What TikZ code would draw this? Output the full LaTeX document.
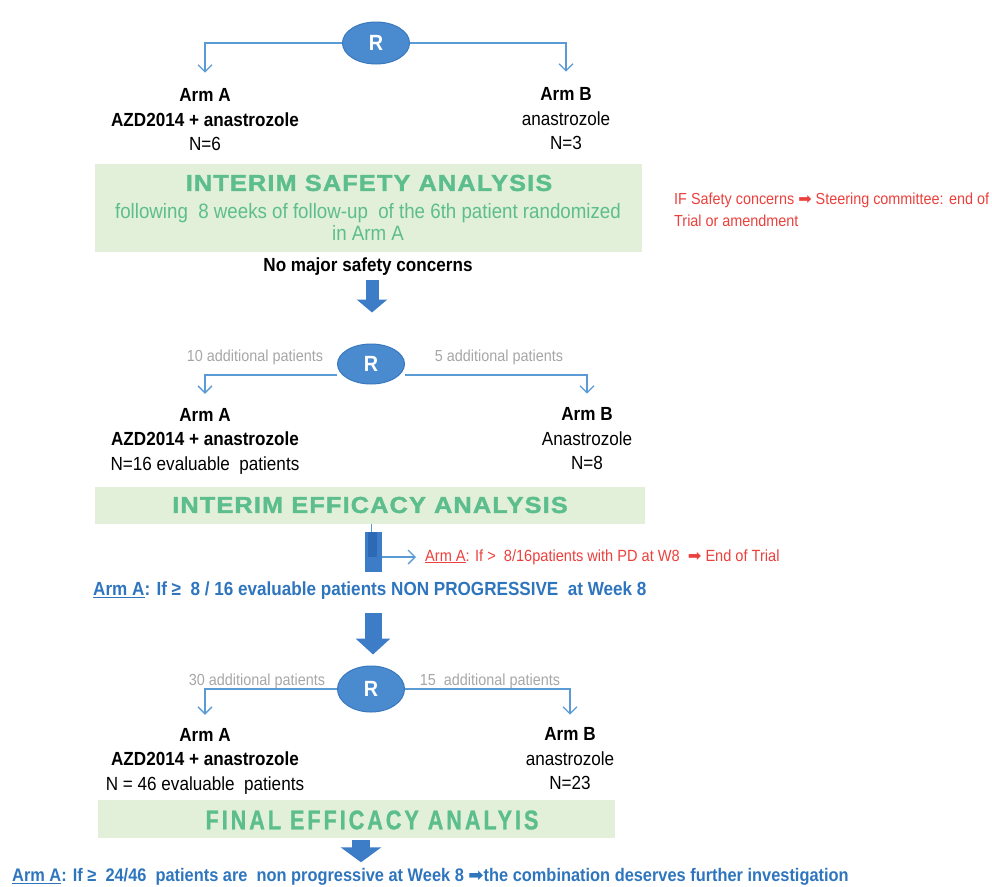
\documentclass[tikz,border=0pt]{standalone}
\usepackage{fontspec}
\setmainfont{Liberation Sans}[FakeStretch=0.9]
\newfontfamily\headfont{Liberation Sans}[FakeStretch=1.1,LetterSpace=5,FakeBold=1.6]
\newfontfamily\finalhead{Liberation Sans}[FakeStretch=0.8,LetterSpace=11,FakeBold=1]
\newfontfamily\symfont{DejaVu Sans}
\usepackage{xcolor}
\usetikzlibrary{arrows.meta,positioning,shapes.geometric}

\definecolor{rblue}{RGB}{74,139,208}
\definecolor{rborder}{RGB}{58,120,190}
\definecolor{linkblue}{RGB}{91,155,213}
\definecolor{blockblue}{RGB}{61,125,200}
\definecolor{bardark}{RGB}{45,105,180}
\definecolor{boxgreen}{RGB}{226,239,217}
\definecolor{titlegreen}{RGB}{92,190,140}
\definecolor{addgray}{RGB}{166,166,166}
\definecolor{warnred}{RGB}{235,64,60}
\definecolor{notetext}{RGB}{46,117,190}

\newcommand{\rarr}{{\symfont\char"27A1}}

\begin{document}
\begin{tikzpicture}[
  x=1pt, y=-1pt,
  rnode/.style={ellipse, draw=rborder, line width=1pt, fill=rblue, minimum width=67pt, minimum height=42pt, inner sep=0pt, text=white, font=\fontsize{22}{22}\selectfont\bfseries},
  armtext/.style={align=center, inner sep=0pt, font=\fontsize{19}{24.5}\selectfont},
  addtext/.style={text=addgray, inner sep=0pt, font=\fontsize{16}{16}\selectfont},
  phase/.style={fill=boxgreen, inner sep=0pt},
  phasetitle/.style={text=titlegreen, inner sep=0pt, font=\headfont\fontsize{23}{23}\selectfont\bfseries},
  link/.style={draw=linkblue, line width=1.3pt, -{Straight Barb[length=7pt,width=14pt]}},
  block/.style={draw=blockblue},
  warn/.style={text=warnred, inner sep=0pt, font=\fontsize{16}{22}\selectfont},
  note/.style={text=notetext, inner sep=0pt, font=\fontsize{19}{19}\selectfont\bfseries}
]
\useasboundingbox (0,0) rectangle (992,886);

% first randomisation
\node[rnode] (r1) at (376,43) {R};
\node[armtext] (armA1) at (205,120) {\textbf{Arm A}\\\textbf{AZD2014 + anastrozole}\\N=6};
\node[armtext] (armB1) at (566,119) {\textbf{Arm B}\\anastrozole\\N=3};
\draw[link, shorten >=16pt] (r1) -| (armA1);
\draw[link, shorten >=16pt] (r1) -| (armB1);

% interim safety
\node[phase, minimum width=547pt, minimum height=88pt] (safety) at (368.5,208) {};
\node[phasetitle] (safetytitle) at (369,183) {INTERIM SAFETY ANALYSIS};
\node[armtext, text=titlegreen, font=\fontsize{20.8}{22}\selectfont] (safetysub) at (368,222) {following\ \ 8 weeks of follow-up\ \ of the 6th patient randomized\\in Arm A};
\node[warn, align=left, anchor=west] (warn1) at (674,210) {IF Safety concerns \rarr{} Steering committee: end of\\Trial or amendment};
\node[armtext, font=\fontsize{19}{19}\selectfont\bfseries] (nomajor) at (368,267) {No major safety concerns};

% second randomisation
\node[rnode, minimum height=40pt] (r2) at (371,364) {R};
\draw[block, line width=13pt, shorten <=4pt, shorten >=31pt, -{Triangle[length=13pt,width=30pt]}] (nomajor.south -| 372,0) -- (r2.north -| 372,0);
\node[addtext] (add10) at (255,357) {10 additional patients};
\node[addtext] (add5) at (499,357) {5 additional patients};
\node[armtext] (armA2) at (205,441) {\textbf{Arm A}\\\textbf{AZD2014 + anastrozole}\\N=16 evaluable\ \ patients};
\node[armtext] (armB2) at (587,439) {\textbf{Arm B}\\Anastrozole\\N=8};
\draw[link, shorten >=14pt] ([yshift=-11pt]r2.west) -| (armA2);
\draw[link, shorten >=14pt] ([yshift=-11pt]r2.east) -| (armB2);

% interim efficacy
\node[phase, minimum width=550pt, minimum height=37pt] (efficacy) at (370,505.5) {};
\node[phasetitle] (efficacytitle) at (370,505) {INTERIM EFFICACY ANALYSIS};
\node[fill=blockblue, inner sep=0pt, minimum width=17pt, minimum height=40pt] (bar) at (373.5,552) {};
\fill[bardark] (368,532) rectangle (377,557);
\draw[linkblue, line width=1pt] (efficacy.south -| 371,0) -- (bar.north -| 371,0);
\node[warn, anchor=west, font=\fontsize{16.2}{16.2}\selectfont] (effwarn) at (425,557) {\underline{Arm A}: If >\ \ 8/16patients with PD at W8\ \ \rarr{} End of Trial};
\draw[link, shorten >=9pt] (effwarn.west -| bar.east) -- (effwarn.west);
\node[note, anchor=west] (effnote) at (93,591) {\underline{Arm A}: If ≥\ \ 8 / 16 evaluable patients NON PROGRESSIVE\ \ at Week 8};

% third randomisation
\node[rnode, minimum height=46pt] (r3) at (371,689) {R};
\draw[block, line width=17pt, shorten <=13pt, shorten >=11pt, -{Triangle[length=16pt,width=34pt]}] (effnote.south -| 373,0) -- (r3.north -| 373,0);
\node[addtext] (add30) at (257,681) {30 additional patients};
\node[addtext] (add15) at (490,681) {15\ \ additional patients};
\node[armtext] (armA3) at (205,761) {\textbf{Arm A}\\\textbf{AZD2014 + anastrozole}\\N = 46 evaluable\ \ patients};
\node[armtext] (armB3) at (570,759) {\textbf{Arm B}\\anastrozole\\N=23};
\draw[link, shorten >=13pt] (r3) -| (armA3);
\draw[link, shorten >=13pt] (r3) -| (armB3);

% final efficacy
\node[phase, minimum width=517pt, minimum height=38pt] (final) at (356.5,819) {};
\node[text=titlegreen, inner sep=0pt, font=\finalhead\fontsize{27}{27}\selectfont\bfseries] (finaltitle) at (372,820) {FINAL EFFICACY ANALYIS};
\node[note, anchor=west, font=\fontsize{18.2}{18.2}\selectfont\bfseries] (finalnote) at (12,877) {\underline{Arm A}: If ≥\ \ 24/46\ \ patients are\ \ non progressive at Week 8 \rarr{}the combination deserves further investigation};
\draw[block, line width=18pt, shorten <=2pt, shorten >=6pt, -{Triangle[length=15pt,width=40pt]}] (final.south -| 361,0) -- (finalnote.north -| 361,0);
\end{tikzpicture}
\end{document}
